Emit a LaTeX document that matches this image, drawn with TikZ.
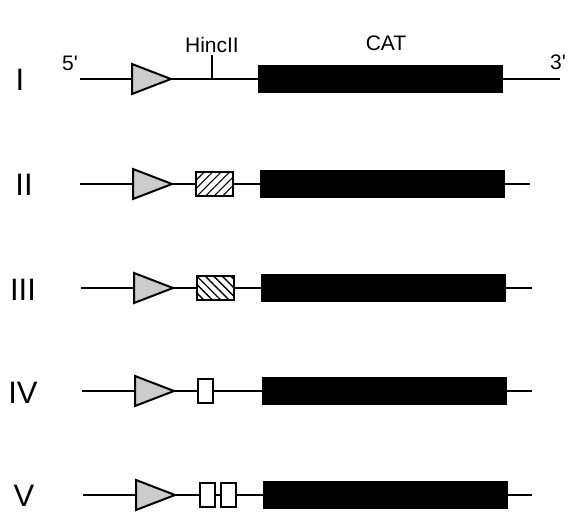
\documentclass[tikz,border=0pt]{standalone}
\usepackage{fontspec}
\setmainfont{Liberation Sans}
\usetikzlibrary{patterns.meta}
\begin{document}
\begin{tikzpicture}[x=1pt,y=-1pt,
  dna/.style={line width=2.2pt},
  prom/.style={draw,line width=2pt,fill=black!20,line join=miter},
  catbox/.style={draw,fill=black,line width=1pt,inner sep=0pt,minimum width=244pt,minimum height=27pt},
  hatchA/.style={draw,line width=2pt,inner sep=0pt,minimum width=37pt,minimum height=24pt,
    pattern={Lines[angle=45,distance=6pt,line width=1.1pt]}},
  hatchB/.style={draw,line width=2pt,inner sep=0pt,minimum width=37pt,minimum height=24pt,
    pattern={Lines[angle=-45,distance=6pt,line width=1.4pt]}},
  openbox/.style={draw,fill=white,line width=2pt,inner sep=0pt,minimum width=15pt,minimum height=24pt},
  rowlab/.style={font=\fontsize{31}{31}\selectfont},
  toplab/.style={font=\fontsize{21}{21}\selectfont},
]
\useasboundingbox (0,0) rectangle (574,512);
% labels on top
\node[toplab] (hinc) at (212,45) {HincII};
\node[toplab] (catlab) at (386,43) {CAT};
\node[toplab] (five) at (70,63) {5\textquotesingle};
\node[toplab] (three) at (558,62) {3\textquotesingle};
% ---- Row I
\node[rowlab] (rI) at (20,80) {I};
\coordinate (s1) at (80,79);
\coordinate (e1) at (560,79);
\coordinate (p1b) at (132,79);
\coordinate (p1t) at (171,79);
\draw[prom] (132,64) -- (p1t) -- (132,94) -- cycle;
\node[catbox] (c1) at (380,79) {};
\coordinate (h1) at (212,79);
\coordinate (h1top) at (212,55);
\draw[dna] (s1) -- (p1b);
\draw[dna] (p1t) -- (c1.west);
\draw[dna] (c1.east) -- (e1);
\draw[dna] (h1) -- (h1top);
% ---- Row II
\node[rowlab] (rII) at (24,185) {II};
\coordinate (s2) at (80,184);
\coordinate (e2) at (530,184);
\coordinate (p2b) at (133,184);
\coordinate (p2t) at (172,184);
\draw[prom] (133,169) -- (p2t) -- (133,199) -- cycle;
\node[hatchA] (b2) at (214,184) {};
\node[catbox] (c2) at (382,184) {};
\draw[dna] (s2) -- (p2b);
\draw[dna] (p2t) -- (b2.west);
\draw[dna] (b2.east) -- (c2.west);
\draw[dna] (c2.east) -- (e2);
% ---- Row III
\node[rowlab] (rIII) at (23,290) {III};
\coordinate (s3) at (81,288);
\coordinate (e3) at (532,288);
\coordinate (p3b) at (134,288);
\coordinate (p3t) at (173,288);
\draw[prom] (134,273) -- (p3t) -- (134,303) -- cycle;
\node[hatchB] (b3) at (215,288) {};
\node[catbox] (c3) at (383,288) {};
\draw[dna] (s3) -- (p3b);
\draw[dna] (p3t) -- (b3.west);
\draw[dna] (b3.east) -- (c3.west);
\draw[dna] (c3.east) -- (e3);
% ---- Row IV
\node[rowlab] (rIV) at (23,393) {IV};
\coordinate (s4) at (82,391);
\coordinate (e4) at (532,391);
\coordinate (p4b) at (135,391);
\coordinate (p4t) at (174,391);
\draw[prom] (135,376) -- (p4t) -- (135,406) -- cycle;
\node[openbox] (b4) at (205,391) {};
\node[catbox] (c4) at (384,391) {};
\draw[dna] (s4) -- (p4b);
\draw[dna] (p4t) -- (b4.west);
\draw[dna] (b4.east) -- (c4.west);
\draw[dna] (c4.east) -- (e4);
% ---- Row V
\node[rowlab] (rV) at (24,496) {V};
\coordinate (s5) at (83,495);
\coordinate (e5) at (532,495);
\coordinate (p5b) at (136,495);
\coordinate (p5t) at (175,495);
\draw[prom] (136,480) -- (p5t) -- (136,510) -- cycle;
\node[openbox] (b5a) at (207,495) {};
\node[openbox] (b5b) at (228,495) {};
\node[catbox] (c5) at (385,495) {};
\draw[dna] (s5) -- (p5b);
\draw[dna] (p5t) -- (b5a.west);
\draw[dna] (b5a.east) -- (b5b.west);
\draw[dna] (b5b.east) -- (c5.west);
\draw[dna] (c5.east) -- (e5);
\end{tikzpicture}
\end{document}
